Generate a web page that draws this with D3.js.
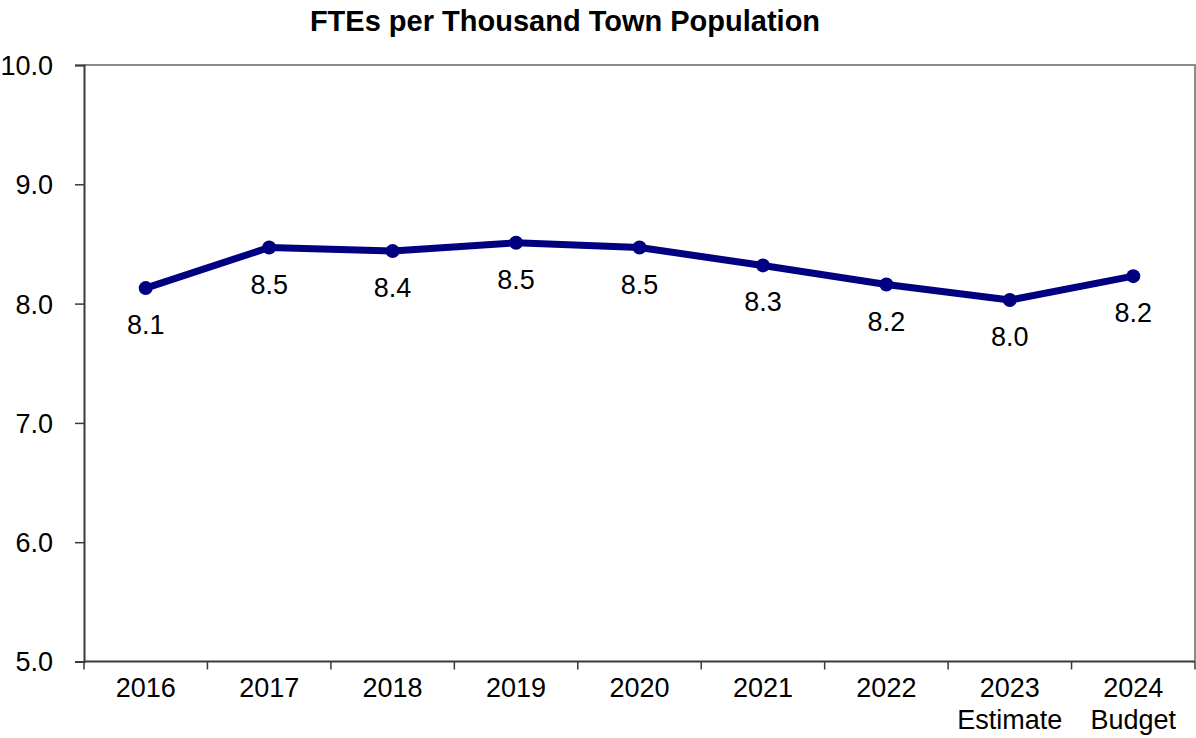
<!DOCTYPE html>
<html>
<head>
<meta charset="utf-8">
<script src="https://cdn.jsdelivr.net/npm/d3@7"></script>
<style>
  html, body { margin: 0; padding: 0; background: #fff; }
  text { font-family: "Liberation Sans", Arial, sans-serif; fill: #000; }
</style>
</head>
<body>
<svg id="chart" width="1196" height="738"></svg>
<script>
// FTEs per thousand residents, by fiscal year
const categories = ["2016", "2017", "2018", "2019", "2020", "2021", "2022", "2023\nEstimate", "2024\nBudget"];
const values = [8.13, 8.47, 8.44, 8.51, 8.47, 8.32, 8.16, 8.03, 8.23];
const yTicks = [5, 6, 7, 8, 9, 10];
const title = "FTEs per Thousand Town Population";

const svg = d3.select("#chart");
const margin = { top: 65, right: 1, bottom: 76.5, left: 84 };
const W = 1196, H = 738;
const innerW = W - margin.left - margin.right;
const innerH = H - margin.top - margin.bottom;
const fontSize = "27px";

const x = d3.scaleBand().domain(categories).range([margin.left, margin.left + innerW]).padding(0);
const y = d3.scaleLinear().domain([5, 10]).range([margin.top + innerH, margin.top]);

// plot frame: top and right edges in grey
svg.append("path")
  .attr("d", `M${margin.left},${margin.top}H${margin.left + innerW}V${margin.top + innerH}`)
  .attr("fill", "none").attr("stroke", "#8c8c8c").attr("stroke-width", 2);

// y axis
const yAxis = svg.append("g").attr("transform", `translate(${margin.left},0)`)
  .call(d3.axisLeft(y).tickValues(yTicks).tickFormat(d3.format(".1f")).tickSize(9).tickPadding(22));
yAxis.attr("font-size", null).attr("font-family", null);
yAxis.select(".domain").attr("stroke", "#3a3a3a").attr("stroke-width", 2);
yAxis.selectAll(".tick line").attr("stroke", "#3a3a3a").attr("stroke-width", 1.5);
yAxis.selectAll("text").style("font-size", fontSize).attr("fill", "#000").attr("dy", "0.35em");

// x axis with ticks at category boundaries
const xg = svg.append("g").attr("transform", `translate(0,${margin.top + innerH})`);
xg.append("line").attr("x1", margin.left).attr("x2", margin.left + innerW)
  .attr("stroke", "#3a3a3a").attr("stroke-width", 2);
const boundaries = categories.map(c => x(c)).concat([margin.left + innerW]);
xg.selectAll("line.tick").data(boundaries).enter().append("line")
  .attr("class", "tick")
  .attr("x1", d => d).attr("x2", d => d).attr("y1", 0).attr("y2", 8)
  .attr("stroke", "#3a3a3a").attr("stroke-width", 1.5);
const xl = xg.selectAll("text.cat").data(categories).enter().append("text")
  .attr("class", "cat")
  .attr("x", d => x(d) + x.bandwidth() / 2)
  .attr("text-anchor", "middle")
  .style("font-size", fontSize);
xl.each(function(d) {
  const lines = d.split("\n");
  const t = d3.select(this);
  lines.forEach((ln, i) => {
    t.append("tspan").attr("x", x(d) + x.bandwidth() / 2).attr("y", 35 + i * 32).text(ln);
  });
});

// line series
const pts = categories.map((c, i) => ({ c, v: values[i] }));
svg.append("path").datum(pts)
  .attr("fill", "none").attr("stroke", "#000080").attr("stroke-width", 7)
  .attr("stroke-linejoin", "round")
  .attr("d", d3.line().x(d => x(d.c) + x.bandwidth() / 2).y(d => y(d.v)));

svg.selectAll("circle.pt").data(pts).enter().append("circle")
  .attr("class", "pt")
  .attr("cx", d => x(d.c) + x.bandwidth() / 2)
  .attr("cy", d => y(d.v))
  .attr("r", 7).attr("fill", "#000080");

// value labels below each point
svg.selectAll("text.val").data(pts).enter().append("text")
  .attr("class", "val")
  .attr("x", d => x(d.c) + x.bandwidth() / 2)
  .attr("y", d => y(d.v) + 46)
  .attr("text-anchor", "middle")
  .style("font-size", fontSize)
  .text(d => d3.format(".1f")(d.v));

// title
svg.append("text")
  .attr("x", 565).attr("y", 31)
  .attr("text-anchor", "middle")
  .style("font-size", "29px").style("font-weight", "bold")
  .text(title);
</script>
</body>
</html>
